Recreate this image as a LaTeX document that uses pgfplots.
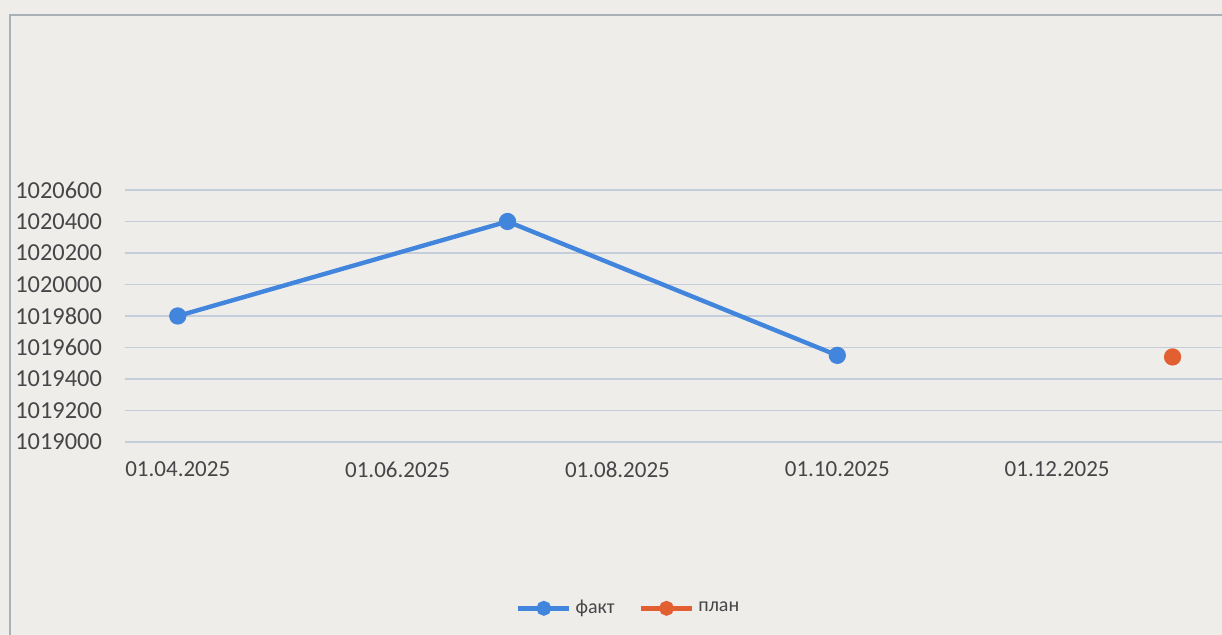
\documentclass[border=0pt]{standalone}
\usepackage{pgfplots}
\pgfplotsset{compat=1.18}
\usepackage{fontspec}
\setmainfont{Carlito}
\definecolor{bgc}{RGB}{238,237,234}
\definecolor{gridc}{RGB}{196,205,218}
\definecolor{txtc}{RGB}{70,70,72}
\definecolor{factc}{RGB}{66,133,220}
\definecolor{planc}{RGB}{226,95,50}
\definecolor{framec}{RGB}{170,176,184}
\begin{document}
\begin{tikzpicture}[x=1pt,y=1pt]
\useasboundingbox (0,0) rectangle (611,317.5);
\fill[bgc] (0,0) rectangle (611,317.5);
\draw[framec,line width=0.8pt] (5,-5) -- (5,310) -- (620,310);
\begin{axis}[
  at={(62.5pt,96.5pt)}, anchor=south west,
  scale only axis,
  width=548.5pt, height=126pt,
  xmin=-0.48, xmax=9.5,
  ymin=1019000, ymax=1020600,
  ytick={1019000,1019200,...,1020600},
  scaled y ticks=false,
  yticklabel={\pgfmathprintnumber[fixed,precision=0,1000 sep={}]{\tick}},
  xtick={0,2,4,6,8},
  xticklabels={01.04.2025,01.06.2025,01.08.2025,01.10.2025,01.12.2025},
  axis line style={draw=none},
  major tick length=0pt,
  ymajorgrids,
  grid style={gridc,line width=0.7pt},
  /pgf/number format/assume math mode=true,
  /pgf/number format/1000 sep={},
  ticklabel style={font=\fontsize{11.5}{13}\selectfont, text=txtc},
  yticklabel style={xshift=-8pt, font=\fontsize{12.2}{14}\selectfont},
  xticklabel style={yshift=-6.5pt},
  legend style={at={(0.46,-0.66)}, anchor=center, draw=none, fill=none,
    legend columns=2, font=\fontsize{10}{12}\selectfont\color{txtc},
    /tikz/every even column/.append style={column sep=10pt}},
  legend image code/.code={
    \draw[#1,line width=2.2pt] (0cm,0cm) -- (0.9cm,0cm);
    \fill[#1] (0.45cm,0cm) circle (2.6pt);
  },
  clip=false,
]
\addplot[factc, line width=2.2pt, mark=*, mark size=3.2pt, mark options={fill=factc, draw=factc}]
  coordinates {(0,1019800) (3,1020400) (6,1019550)};
\addlegendentry{факт}
\addplot[planc, line width=2.2pt, only marks, mark=*, mark size=3.2pt, mark options={fill=planc, draw=planc}]
  coordinates {(9.05,1019540)};
\addlegendentry{план}
\end{axis}
\end{tikzpicture}
\end{document}
